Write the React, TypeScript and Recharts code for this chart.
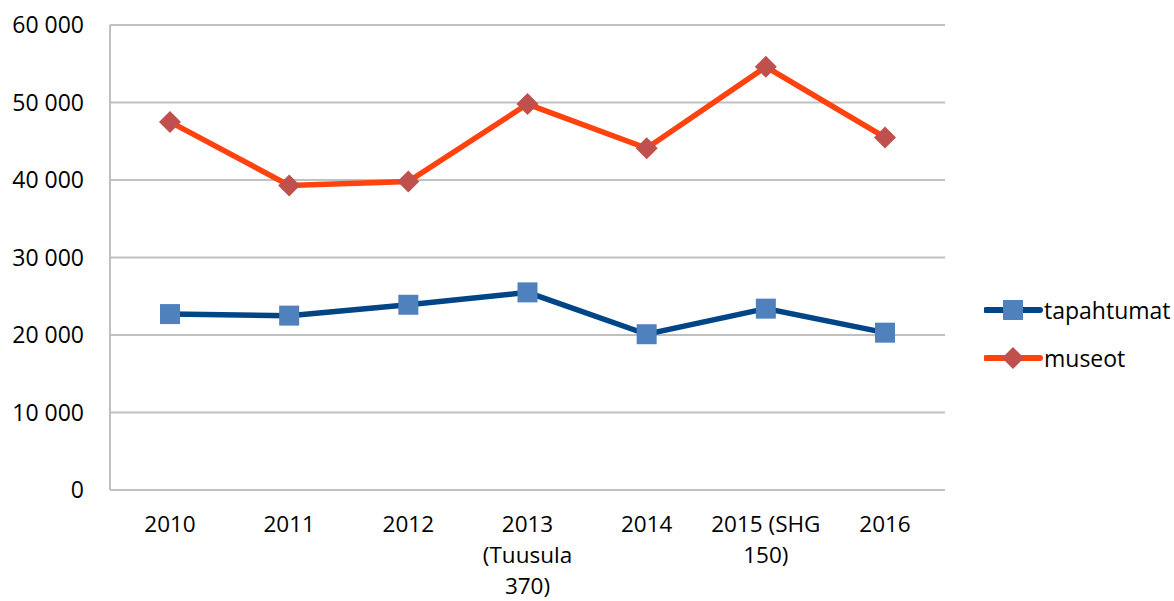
import { LineChart, Line, XAxis, YAxis, CartesianGrid, Legend } from "recharts";

const categories = ["2010", "2011", "2012", "2013 (Tuusula 370)", "2014", "2015 (SHG 150)", "2016"];
const categoryLines: Record<string, string[]> = {
  "2013 (Tuusula 370)": ["2013", "(Tuusula", "370)"],
  "2015 (SHG 150)": ["2015 (SHG", "150)"],
};
const tapahtumat = [22700, 22500, 23900, 25500, 20100, 23400, 20300];
const museot = [47500, 39300, 39800, 49800, 44100, 54600, 45500];
const yTicks = [0, 10000, 20000, 30000, 40000, 50000, 60000];

const data = categories.map((c, i) => ({ year: c, tapahtumat: tapahtumat[i], museot: museot[i] }));

const FONT = "'Open Sans', sans-serif";
const GRID = "#c0c0c0";
const BLUE_LINE = "#004586";
const BLUE_MARK = "#4f81bd";
const RED_LINE = "#ff420e";
const RED_MARK = "#c0504d";

const fmt = (v: number) => String(v).replace(/\B(?=(\d{3})+(?!\d))/g, " ");

function SquareDot(props: any) {
  const { cx, cy } = props;
  if (cx == null || cy == null) return null;
  return <rect x={cx - 10} y={cy - 10} width={20} height={20} fill={BLUE_MARK} />;
}

function DiamondDot(props: any) {
  const { cx, cy } = props;
  if (cx == null || cy == null) return null;
  return <polygon points={`${cx},${cy - 11} ${cx + 11},${cy} ${cx},${cy + 11} ${cx - 11},${cy}`} fill={RED_MARK} />;
}

function XTick(props: any) {
  const { x, y, payload } = props;
  const lines = categoryLines[payload.value] ?? [payload.value];
  return (
    <g>
      {lines.map((l: string, i: number) => (
        <text key={i} x={x} y={y + 34 + i * 31} textAnchor="middle" fontFamily={FONT} fontSize={22.5} fill="#000">
          {l}
        </text>
      ))}
    </g>
  );
}

function YTick(props: any) {
  const { y, payload } = props;
  return (
    <text x={84} y={y + 8} textAnchor="end" fontFamily={FONT} fontSize={23} fill="#000">
      {fmt(payload.value)}
    </text>
  );
}

function LegendContent() {
  const items = [
    { name: "tapahtumat", line: BLUE_LINE, dot: "square" },
    { name: "museot", line: RED_LINE, dot: "diamond" },
  ];
  return (
    <div style={{ whiteSpace: "nowrap" }}>
      {items.map((it) => (
        <div key={it.name} style={{ display: "flex", alignItems: "center", height: 48, width: 190 }}>
          <svg width={60} height={24}>
            <line x1={2} y1={12} x2={56} y2={12} stroke={it.line} strokeWidth={6} strokeLinecap="round" />
            {it.dot === "square" ? (
              <rect x={19} y={2} width={20} height={20} fill={BLUE_MARK} />
            ) : (
              <polygon points="29,1 40,12 29,23 18,12" fill={RED_MARK} />
            )}
          </svg>
          <span style={{ fontFamily: FONT, fontSize: 23, color: "#000" }}>{it.name}</span>
        </div>
      ))}
    </div>
  );
}

export default function App() {
  return (
    <div style={{ position: "fixed", left: 0, top: 0, width: 1174, height: 601, background: "#fff" }}>
      <LineChart width={1174} height={601} data={data} margin={{ top: 25, right: 229, bottom: 0, left: 0 }}>
        <CartesianGrid vertical={false} stroke={GRID} strokeWidth={2} />
        <XAxis
          dataKey="year"
          axisLine={{ stroke: GRID, strokeWidth: 2 }}
          tickLine={false}
          tick={<XTick />}
          interval={0}
          height={111}
          padding={{ left: 60, right: 60 }}
        />
        <YAxis
          domain={[0, 60000]}
          ticks={yTicks}
          width={110}
          axisLine={{ stroke: GRID, strokeWidth: 2 }}
          tickLine={false}
          tick={<YTick />}
        />
        <YAxis
          yAxisId="r"
          orientation="right"
          width={0}
          tick={false}
          tickLine={false}
          axisLine={{ stroke: GRID, strokeWidth: 2 }}
        />
        <Line
          dataKey="tapahtumat"
          stroke={BLUE_LINE}
          strokeWidth={5.5}
          dot={<SquareDot />}
          activeDot={false}
          isAnimationActive={false}
        />
        <Line
          dataKey="museot"
          stroke={RED_LINE}
          strokeWidth={5.5}
          dot={<DiamondDot />}
          activeDot={false}
          isAnimationActive={false}
        />
        <Legend
          layout="vertical"
          verticalAlign="top"
          align="right"
          content={<LegendContent />}
          wrapperStyle={{ position: "absolute", left: 984, top: 286, width: 0, height: 0, overflow: "visible" }}
        />
      </LineChart>
    </div>
  );
}
